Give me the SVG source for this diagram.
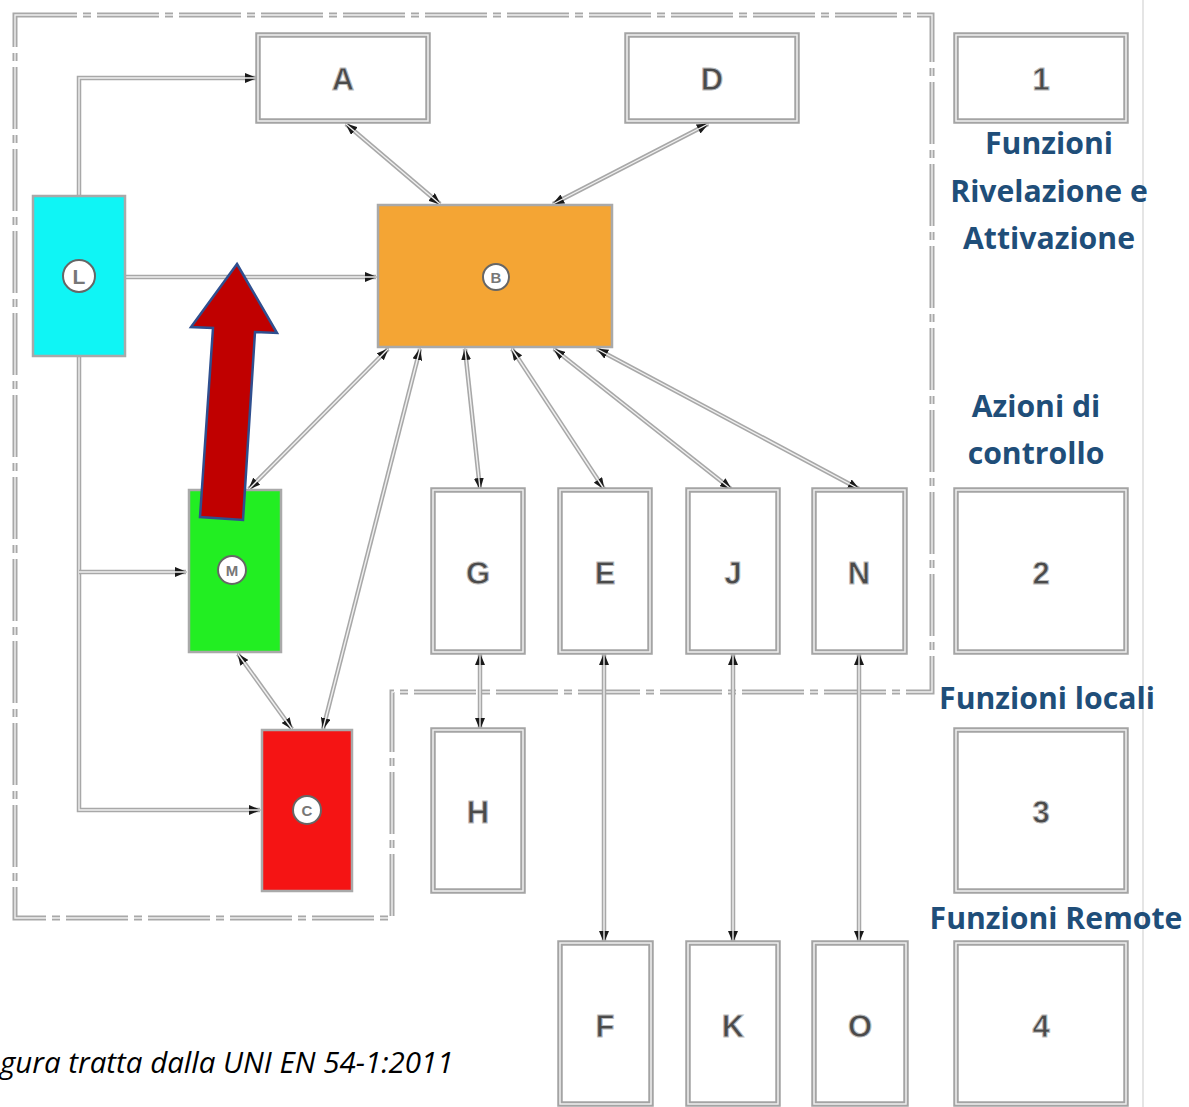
<svg xmlns="http://www.w3.org/2000/svg" xmlns:xlink="http://www.w3.org/1999/xlink" width="1189" height="1107" viewBox="0 0 1189 1107">
<style>
.bo{fill:none;stroke:#a4a4a4;stroke-width:5.5}
.bi{fill:none;stroke:#f0f0f0;stroke-width:1.5}
.co{fill:none;stroke:#a8a8a8;stroke-width:4.5}
.ci{fill:none;stroke:#f0f0f0;stroke-width:1.4}
.arr2{marker-start:url(#ah);marker-end:url(#ah)}
.arr1{marker-end:url(#ah)}
.cb{stroke:#a9a9a9;stroke-width:2.5}
.lt{font-family:"Liberation Sans",Arial,sans-serif;font-weight:bold;font-size:31px;fill:#4a4a4a;stroke:#bdbdbd;stroke-width:1;text-anchor:middle}
.ct{font-family:"Liberation Sans",Arial,sans-serif;font-weight:bold;fill:#777;text-anchor:middle}
.circ{fill:#fff;stroke:#666;stroke-width:2}
.lab{font-family:"Open Sans",Lato,sans-serif;font-weight:bold;font-size:30.2px;fill:#1f4e79;text-anchor:middle}
.cap{font-family:"Open Sans",Lato,sans-serif;font-style:italic;font-size:29.5px;fill:#000}
.dash{fill:none;stroke:#a8a8a8;stroke-width:5;stroke-dasharray:62 6 8 6}
.dashi{fill:none;stroke:#f0f0f0;stroke-width:1.4;stroke-dasharray:62 6 8 6}
</style>
<defs>
<marker id="ah" viewBox="0 0 12 10" refX="11" refY="5" markerWidth="12" markerHeight="10" markerUnits="userSpaceOnUse" orient="auto-start-reverse">
<path d="M0,0 L12,5 L0,10 z" fill="#1a1a1a"/>
</marker>
<path id="p1" d="M79,195 V78 H256"/>
<path id="p2" d="M125,277 H376"/>
<path id="p3" d="M79,355 V810 H260"/>
<path id="p4" d="M79,572 H186"/>
<path id="p5" d="M346,124 L440,204"/>
<path id="p6" d="M708,124 L553,204"/>
<path id="p7" d="M388,349 L249,489"/>
<path id="p8" d="M420,349 L323,729"/>
<path id="p9" d="M465,349 L480,489"/>
<path id="p10" d="M512,349 L604,489"/>
<path id="p11" d="M554,349 L731,489"/>
<path id="p12" d="M597,349 L859,489"/>
<path id="p13" d="M238,654 L292,729"/>
<path id="p14" d="M480,654 V729"/>
<path id="p15" d="M604,654 V942"/>
<path id="p16" d="M733,654 V942"/>
<path id="p17" d="M859,654 V942"/>
</defs>
<rect width="1189" height="1107" fill="#fff"/>
<line x1="1143" y1="0" x2="1143" y2="1107" stroke="#dcdcdc" stroke-width="1.5"/>
<g id="boundary">
<path class="dash" d="M15,15 H932 V692 H392 V918 H15 Z"/>
<path class="dashi" d="M15,15 H932 V692 H392 V918 H15 Z"/>
</g>
<g id="connectors">
<use href="#p1" class="co arr1"/><use href="#p1" class="ci"/>
<use href="#p2" class="co arr1"/><use href="#p2" class="ci"/>
<use href="#p3" class="co arr1"/><use href="#p3" class="ci"/>
<use href="#p4" class="co arr1"/><use href="#p4" class="ci"/>
<use href="#p5" class="co arr2"/><use href="#p5" class="ci"/>
<use href="#p6" class="co arr2"/><use href="#p6" class="ci"/>
<use href="#p7" class="co arr2"/><use href="#p7" class="ci"/>
<use href="#p8" class="co arr2"/><use href="#p8" class="ci"/>
<use href="#p9" class="co arr2"/><use href="#p9" class="ci"/>
<use href="#p10" class="co arr2"/><use href="#p10" class="ci"/>
<use href="#p11" class="co arr2"/><use href="#p11" class="ci"/>
<use href="#p12" class="co arr2"/><use href="#p12" class="ci"/>
<use href="#p13" class="co arr2"/><use href="#p13" class="ci"/>
<use href="#p14" class="co arr2"/><use href="#p14" class="ci"/>
<use href="#p15" class="co arr2"/><use href="#p15" class="ci"/>
<use href="#p16" class="co arr2"/><use href="#p16" class="ci"/>
<use href="#p17" class="co arr2"/><use href="#p17" class="ci"/>
</g>
<g id="A"><rect class="bo" x="258" y="35" width="170" height="86" fill="#fff"/><rect class="bi" x="258" y="35" width="170" height="86"/><text class="lt" x="343" y="90">A</text></g>
<g id="D"><rect class="bo" x="627" y="35" width="170" height="86" fill="#fff"/><rect class="bi" x="627" y="35" width="170" height="86"/><text class="lt" x="712" y="90">D</text></g>
<g id="n1"><rect class="bo" x="956" y="35" width="170" height="86" fill="#fff"/><rect class="bi" x="956" y="35" width="170" height="86"/><text class="lt" x="1041" y="90">1</text></g>
<g id="L"><rect class="cb" x="33" y="196" width="92" height="160" fill="#0ff5f5"/><circle class="circ" cx="79" cy="276" r="16"/><text class="ct" x="79" y="284" font-size="21">L</text></g>
<g id="B"><rect class="cb" x="378" y="205" width="234" height="142" fill="#f4a534"/><circle class="circ" cx="496" cy="277" r="13" stroke="#8a8a5a"/><text class="ct" x="496" y="283" font-size="15">B</text></g>
<g id="M"><rect class="cb" x="189" y="490" width="92" height="162" fill="#22ee22"/><circle class="circ" cx="232" cy="570" r="14"/><text class="ct" x="232" y="576" font-size="15">M</text></g>
<g id="C"><rect class="cb" x="262" y="730" width="90" height="161" fill="#f51414"/><circle class="circ" cx="307" cy="810" r="14" stroke="#c8c8c8"/><text class="ct" x="307" y="816" font-size="15">C</text></g>
<g id="G"><rect class="bo" x="433" y="490" width="90" height="162" fill="#fff"/><rect class="bi" x="433" y="490" width="90" height="162"/><text class="lt" x="478" y="584">G</text></g>
<g id="E"><rect class="bo" x="560" y="490" width="90" height="162" fill="#fff"/><rect class="bi" x="560" y="490" width="90" height="162"/><text class="lt" x="605" y="584">E</text></g>
<g id="J"><rect class="bo" x="688" y="490" width="90" height="162" fill="#fff"/><rect class="bi" x="688" y="490" width="90" height="162"/><text class="lt" x="733" y="584">J</text></g>
<g id="N"><rect class="bo" x="814" y="490" width="91" height="162" fill="#fff"/><rect class="bi" x="814" y="490" width="91" height="162"/><text class="lt" x="859" y="584">N</text></g>
<g id="n2"><rect class="bo" x="956" y="490" width="170" height="162" fill="#fff"/><rect class="bi" x="956" y="490" width="170" height="162"/><text class="lt" x="1041" y="584">2</text></g>
<g id="H"><rect class="bo" x="433" y="730" width="90" height="161" fill="#fff"/><rect class="bi" x="433" y="730" width="90" height="161"/><text class="lt" x="478" y="823">H</text></g>
<g id="n3"><rect class="bo" x="956" y="730" width="170" height="161" fill="#fff"/><rect class="bi" x="956" y="730" width="170" height="161"/><text class="lt" x="1041" y="823">3</text></g>
<g id="F"><rect class="bo" x="560" y="943" width="91" height="161" fill="#fff"/><rect class="bi" x="560" y="943" width="91" height="161"/><text class="lt" x="605" y="1037">F</text></g>
<g id="K"><rect class="bo" x="688" y="943" width="90" height="161" fill="#fff"/><rect class="bi" x="688" y="943" width="90" height="161"/><text class="lt" x="733" y="1037">K</text></g>
<g id="O"><rect class="bo" x="814" y="943" width="92" height="161" fill="#fff"/><rect class="bi" x="814" y="943" width="92" height="161"/><text class="lt" x="860" y="1037">O</text></g>
<g id="n4"><rect class="bo" x="956" y="943" width="170" height="161" fill="#fff"/><rect class="bi" x="956" y="943" width="170" height="161"/><text class="lt" x="1041" y="1037">4</text></g>
<g id="bigarrow">
<path d="M237,264 L277,333 L255,332 L243,520 L200,517 L213,328 L191,327 Z" fill="#c00000" stroke="#2f4f8f" stroke-width="2.5" stroke-linejoin="miter"/>
</g>
<g id="labels">
<text class="lab" x="1049" y="154">Funzioni</text>
<text class="lab" x="1049" y="202">Rivelazione e</text>
<text class="lab" x="1049" y="249">Attivazione</text>
<text class="lab" x="1036" y="417">Azioni di</text>
<text class="lab" x="1036" y="464">controllo</text>
<text class="lab" x="1047" y="709">Funzioni locali</text>
<text class="lab" x="1056" y="929">Funzioni Remote</text>
<text class="cap" x="0" y="1073">gura tratta dalla UNI EN 54-1:2011</text>
</g>
</svg>
